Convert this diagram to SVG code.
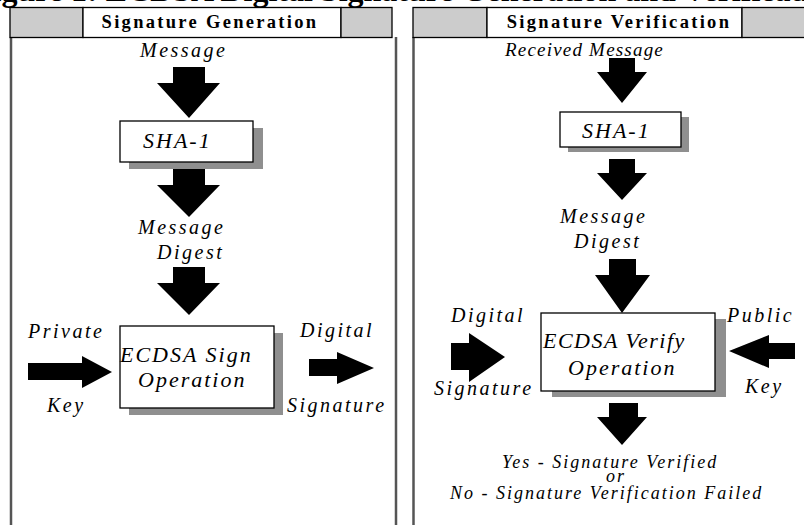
<svg xmlns="http://www.w3.org/2000/svg" width="804" height="525" viewBox="0 0 804 525">
<style>
text{font-family:"Liberation Serif","Times New Roman",serif;fill:#000}
.ttl{font-size:32px;font-weight:bold}
.hdr{font-size:18.5px;font-weight:bold;letter-spacing:2.3px;text-anchor:middle}
.lbl{font-size:20px;font-style:italic;letter-spacing:2.5px}
.box{font-size:22px;font-style:italic;letter-spacing:2px}
.res{font-size:18px;font-style:italic;letter-spacing:2px}
.frame{stroke:#555;stroke-width:2.5;fill:none}
.hgray{fill:#cccccc;stroke:#000;stroke-width:1.3}
.hwhite{fill:#fff;stroke:#000;stroke-width:1.3}
.shadow{fill:#8f8f8f}
.node{fill:#fff;stroke:#000;stroke-width:1.3}
.arr{fill:#000}
</style>
<rect width="804" height="525" fill="#fff"/>
<text class="ttl" x="-27" y="1">Figure 1: ECDSA Digital Signature Generation and Verification</text>

<g id="panel-generation">
<line class="frame" x1="11" y1="37" x2="11" y2="525"/>
<line class="frame" x1="396" y1="37" x2="396" y2="525"/>
<rect class="hgray" x="10" y="7.5" width="73" height="30"/>
<rect class="hwhite" x="83" y="7.5" width="258" height="30"/>
<rect class="hgray" x="341" y="7.5" width="51" height="30"/>
<text class="hdr" x="210" y="28">Signature Generation</text>
</g>

<g id="panel-verification">
<line class="frame" x1="413.5" y1="37" x2="413.5" y2="525"/>
<rect class="hgray" x="413" y="7.5" width="74" height="30"/>
<rect class="hwhite" x="487" y="7.5" width="255" height="30"/>
<rect class="hgray" x="742" y="7.5" width="70" height="30"/>
<text class="hdr" x="619" y="28">Signature Verification</text>
</g>

<g id="connectors">
<polygon class="arr" points="173,67 205,67 205,83 220,83 189,118 157,83 173,83"/>
<polygon class="arr" points="173,169 205,169 205,185 220,185 189,217 157,185 173,185"/>
<polygon class="arr" points="173,267 205,267 205,283 220,283 189,315 157,283 173,283"/>
<polygon class="arr" points="28,363 82,363 82,356 112,372 82,388 82,380 28,380"/>
<polygon class="arr" points="309,359 337,359 337,352 374,368 337,384 337,376 309,376"/>
<polygon class="arr" points="609,58 635,58 635,72 647,72 622,103 597,72 609,72"/>
<polygon class="arr" points="609,159 635,159 635,173 647,173 622,200 597,173 609,173"/>
<polygon class="arr" points="609,259 636,259 636,275 650,275 622,313 595,275 609,275"/>
<polygon class="arr" points="609,403 638,403 638,417 647,417 622,445 597,417 609,417"/>
<polygon class="arr" points="451,343 469,343 469,333 505,357 469,382 469,370 451,370"/>
<polygon class="arr" points="795,343 769,343 769,335 729,351 769,368 769,359 795,359"/>
</g>

<g id="msg-in">
<text class="lbl" x="140" y="57">Message</text>
</g>
<g id="sha1-gen">
<rect class="shadow" x="129" y="128" width="134" height="41"/>
<rect class="node" x="120" y="121" width="133" height="41"/>
<text class="box" x="143" y="148">SHA-1</text>
</g>
<g id="digest-gen">
<text class="lbl" x="138" y="234">Message</text>
<text class="lbl" x="157" y="259">Digest</text>
</g>
<g id="sign-op">
<rect class="shadow" x="129" y="333" width="154" height="82"/>
<rect class="node" x="120" y="326" width="154" height="82"/>
<text class="box" x="120" y="362">ECDSA Sign</text>
<text class="box" x="138" y="387">Operation</text>
</g>
<g id="private-key">
<text class="lbl" x="28" y="338">Private</text>
<text class="lbl" x="47" y="412">Key</text>
</g>
<g id="sig-out">
<text class="lbl" x="300" y="337">Digital</text>
<text class="lbl" x="287" y="412">Signature</text>
</g>

<g id="msg-recv">
<text class="lbl" x="505" y="56" style="font-size:19px;letter-spacing:1.2px">Received Message</text>
</g>
<g id="sha1-ver">
<rect class="shadow" x="568" y="117" width="121" height="35"/>
<rect class="node" x="560" y="112" width="121" height="35"/>
<text class="box" x="582" y="138">SHA-1</text>
</g>
<g id="digest-ver">
<text class="lbl" x="560" y="223">Message</text>
<text class="lbl" x="574" y="248">Digest</text>
</g>
<g id="verify-op">
<rect class="shadow" x="552" y="319" width="174" height="78"/>
<rect class="node" x="541" y="313" width="174" height="78"/>
<text class="box" x="543" y="348" style="letter-spacing:1.5px">ECDSA Verify</text>
<text class="box" x="568" y="375">Operation</text>
</g>
<g id="sig-in">
<text class="lbl" x="451" y="322">Digital</text>
<text class="lbl" x="434" y="395">Signature</text>
</g>
<g id="public-key">
<text class="lbl" x="727" y="322">Public</text>
<text class="lbl" x="745" y="393">Key</text>
</g>
<g id="result">
<text class="res" x="502" y="468">Yes - Signature Verified</text>
<text class="res" x="606" y="482">or</text>
<text class="res" x="450" y="499">No - Signature Verification Failed</text>
</g>
</svg>
